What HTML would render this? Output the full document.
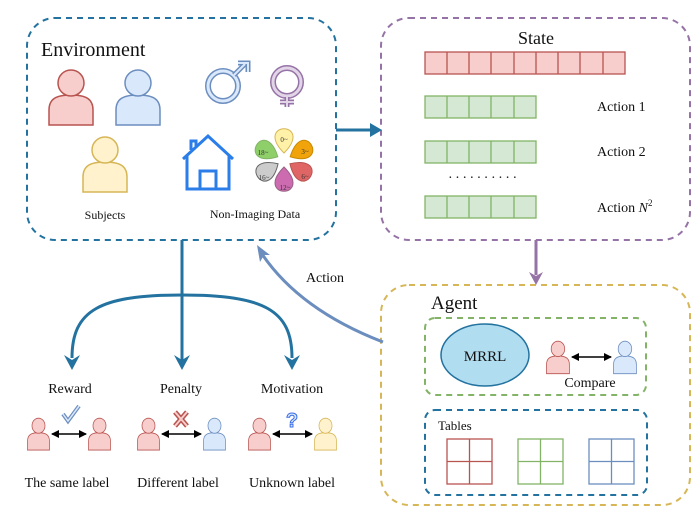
<!DOCTYPE html>
<html><head><meta charset="utf-8"><style>
html,body{margin:0;padding:0;background:#fff;}
svg{display:block;font-family:"Liberation Serif",serif;}
</style></head><body>
<svg width="699" height="513" viewBox="0 0 699 513" xmlns="http://www.w3.org/2000/svg">
<defs>
<g id="pr"><path d="M1,57 L1,42 C1,31 8,27 23,27 C38,27 45,31 45,42 L45,57 Z" fill="#f8cecc" stroke="#b85450" stroke-width="1.5"/><circle cx="23" cy="15" r="13" fill="#f8cecc" stroke="#b85450" stroke-width="1.5"/></g>
<g id="pb"><path d="M1,57 L1,42 C1,31 8,27 23,27 C38,27 45,31 45,42 L45,57 Z" fill="#dae8fc" stroke="#6c8ebf" stroke-width="1.5"/><circle cx="23" cy="15" r="13" fill="#dae8fc" stroke="#6c8ebf" stroke-width="1.5"/></g>
<g id="py"><path d="M1,57 L1,42 C1,31 8,27 23,27 C38,27 45,31 45,42 L45,57 Z" fill="#fff2cc" stroke="#d6b656" stroke-width="1.5"/><circle cx="23" cy="15" r="13" fill="#fff2cc" stroke="#d6b656" stroke-width="1.5"/></g>
<path id="pet" d="M284,153 C277,146 275,141 275,137 C275,126 293,126 293,137 C293,141 291,146 284,153 Z"/>
<marker id="ab" markerWidth="8" markerHeight="8" refX="7" refY="4" orient="auto" markerUnits="userSpaceOnUse"><path d="M0,0 L8,4 L0,8 Z" fill="#000"/></marker>
<marker id="as" markerWidth="8" markerHeight="8" refX="1" refY="4" orient="auto" markerUnits="userSpaceOnUse"><path d="M8,0 L0,4 L8,8 Z" fill="#000"/></marker>
</defs>

<rect x="27" y="18" width="309" height="222" rx="28" fill="none" stroke="#23729f" stroke-width="2" stroke-dasharray="6,5"/>
<rect x="381" y="18" width="309" height="222" rx="28" fill="none" stroke="#9673a6" stroke-width="2" stroke-dasharray="6,5"/>
<rect x="381" y="285" width="309" height="220" rx="28" fill="none" stroke="#d6b656" stroke-width="2" stroke-dasharray="6,5"/>
<rect x="425" y="318" width="221" height="77" rx="10" fill="none" stroke="#82b366" stroke-width="2" stroke-dasharray="6,5"/>
<rect x="425" y="410" width="222" height="85" rx="10" fill="none" stroke="#23729f" stroke-width="2" stroke-dasharray="6,5"/>

<text x="41" y="56" font-size="20" fill="#111">Environment</text>
<text x="536" y="44" font-size="18" text-anchor="middle" fill="#111">State</text>
<text x="431" y="309" font-size="19" fill="#111">Agent</text>

<use href="#pr" transform="translate(48,68)"/>
<use href="#pb" transform="translate(115,68)"/>
<use href="#py" transform="translate(82,135)"/>
<circle cx="223" cy="86" r="15" fill="#fff" stroke="#6c8ebf" stroke-width="6"/>
<circle cx="223" cy="86" r="15" fill="none" stroke="#dae8fc" stroke-width="3"/>
<path d="M234,75 L245,64 M238,63 L248,63 L248,72" stroke="#6c8ebf" stroke-width="5" fill="none"/>
<path d="M234,75 L245,64 M238,63 L248,63 L248,72" stroke="#dae8fc" stroke-width="2" fill="none"/>
<circle cx="287" cy="82" r="14" fill="#fff" stroke="#9673a6" stroke-width="6"/>
<circle cx="287" cy="82" r="14" fill="none" stroke="#e1d5e7" stroke-width="3"/>
<path d="M287,97 V107 M280,102 H294" stroke="#9673a6" stroke-width="5"/>
<path d="M287,97 V107 M280,102 H294" stroke="#e1d5e7" stroke-width="2"/>
<path d="M183,159 L208,136 L233,159 M187,155 V189 H229 V155 M200,189 V171 H216 V189 M191,150 V141 H196 V146" fill="none" stroke="#2b7de9" stroke-width="3"/>
<g stroke-width="1">
<use href="#pet" fill="#fff2a8" stroke="#d6b656"/>
<use href="#pet" transform="rotate(62 284 160)" fill="#f0a30a" stroke="#c88a00"/>
<use href="#pet" transform="rotate(122 284 160)" fill="#e06666" stroke="#b85450"/>
<use href="#pet" transform="rotate(180 284 160)" fill="#cd6bb0" stroke="#996185"/>
<use href="#pet" transform="rotate(238 284 160)" fill="#cccccc" stroke="#666"/>
<use href="#pet" transform="rotate(298 284 160)" fill="#8fcf6a" stroke="#82b366"/>
</g>
<g font-size="7" text-anchor="middle" fill="#333">
<text x="284" y="142">0~</text>
<text x="305" y="154">3~</text>
<text x="305" y="179">6~</text>
<text x="285" y="190">12~</text>
<text x="264" y="180">16~</text>
<text x="263" y="155">18~</text>
</g>
<text x="105" y="219" font-size="12" text-anchor="middle" fill="#111">Subjects</text>
<text x="255" y="218" font-size="12" text-anchor="middle" fill="#111">Non-Imaging Data</text>

<rect x="425" y="52" width="200" height="22" fill="#f8cecc" stroke="#b85450" stroke-width="1.3"/>
<path d="M447,52V74M469,52V74M491,52V74M514,52V74M536,52V74M558,52V74M580,52V74M603,52V74" stroke="#b85450" stroke-width="1.3"/>
<g fill="#d5e8d4" stroke="#82b366" stroke-width="1.3">
<rect x="425" y="96" width="111" height="22"/><rect x="425" y="141" width="111" height="22"/><rect x="425" y="196" width="111" height="22"/>
</g>
<path d="M447,96V118M469,96V118M491,96V118M514,96V118M447,141V163M469,141V163M491,141V163M514,141V163M447,196V218M469,196V218M491,196V218M514,196V218" stroke="#82b366" stroke-width="1.3"/>
<text x="448" y="182" font-size="14" fill="#111" letter-spacing="2.5">··········</text>
<g font-size="14" fill="#111">
<text x="597" y="111">Action 1</text>
<text x="597" y="156">Action 2</text>
<text x="597" y="212">Action <tspan font-style="italic">N</tspan><tspan font-size="9" dy="-6">2</tspan></text>
</g>

<path d="M336,130 H372" stroke="#23729f" stroke-width="3" fill="none"/>
<path d="M370,123 L382,130 L370,137 Z" fill="#23729f"/>
<path d="M536,240 V275" stroke="#9673a6" stroke-width="3"/>
<path d="M529,272 L536,285 L543,272 L536,276 Z" fill="#9673a6"/>
<path d="M383,342 Q300,310 262,254" stroke="#6c8ebf" stroke-width="3" fill="none"/>
<path d="M257,245 L270,255 L264,255 L260,262 Z" fill="#6c8ebf"/>
<text x="325" y="282" font-size="14" text-anchor="middle" fill="#111">Action</text>

<g stroke="#23729f" stroke-width="3" fill="none">
<path d="M182,240 V360"/>
<path d="M182,295 C100,295 72,310 72,358"/>
<path d="M182,295 C264,295 292,310 292,358"/>
</g>
<g fill="#23729f">
<path d="M64,355 L72,370 L80,355 L72,360 Z"/>
<path d="M174,355 L182,370 L190,355 L182,360 Z"/>
<path d="M284,355 L292,370 L300,355 L292,360 Z"/>
</g>
<g font-size="14" fill="#111" text-anchor="middle">
<text x="70" y="393">Reward</text>
<text x="181" y="393">Penalty</text>
<text x="292" y="393">Motivation</text>
<text x="67" y="487">The same label</text>
<text x="178" y="487">Different label</text>
<text x="292" y="487">Unknown label</text>
</g>
<use href="#pr" transform="translate(27,417) scale(0.5,0.58)"/>
<use href="#pr" transform="translate(88,417) scale(0.5,0.58)"/>
<use href="#pr" transform="translate(137,417) scale(0.5,0.58)"/>
<use href="#pb" transform="translate(203,417) scale(0.5,0.58)"/>
<use href="#pr" transform="translate(248,417) scale(0.5,0.58)"/>
<use href="#py" transform="translate(314,417) scale(0.5,0.58)"/>
<use href="#pr" transform="translate(546,340) scale(0.52,0.59)"/>
<use href="#pb" transform="translate(613,340) scale(0.52,0.59)"/>
<g stroke="#000" stroke-width="1.5">
<path d="M52,434 H86" marker-start="url(#as)" marker-end="url(#ab)"/>
<path d="M162,434 H201" marker-start="url(#as)" marker-end="url(#ab)"/>
<path d="M273,434 H312" marker-start="url(#as)" marker-end="url(#ab)"/>
<path d="M572,357 H611" marker-start="url(#as)" marker-end="url(#ab)"/>
</g>
<path d="M63,414 L68,421 L79,406" stroke="#6c8ebf" stroke-width="4" fill="none"/>
<path d="M63,414 L68,421 L79,406" stroke="#dae8fc" stroke-width="1.5" fill="none"/>
<path d="M175,412 L187,426 M187,412 L175,426" stroke="#b85450" stroke-width="5"/>
<path d="M175,412 L187,426 M187,412 L175,426" stroke="#f8cecc" stroke-width="2"/>
<text x="292" y="427" font-size="20" font-family="Liberation Sans,sans-serif" font-weight="bold" text-anchor="middle" fill="#dae8fc" stroke="#3a6ee8" stroke-width="1">?</text>

<ellipse cx="485" cy="355" rx="44" ry="31" fill="#b1ddf0" stroke="#23729f" stroke-width="1.5"/>
<text x="485" y="361" font-size="15" text-anchor="middle" fill="#111">MRRL</text>
<text x="590" y="387" font-size="14" text-anchor="middle" fill="#111">Compare</text>
<text x="438" y="430" font-size="13" fill="#111">Tables</text>
<g fill="none" stroke-width="1.3">
<rect x="447" y="439" width="45" height="45" stroke="#b85450"/><path d="M469.5,439V484M447,461.5H492" stroke="#b85450"/>
<rect x="518" y="439" width="45" height="45" stroke="#82b366"/><path d="M540.5,439V484M518,461.5H563" stroke="#82b366"/>
<rect x="589" y="439" width="45" height="45" stroke="#6c8ebf"/><path d="M611.5,439V484M589,461.5H634" stroke="#6c8ebf"/>
</g>
</svg>
</body></html>
